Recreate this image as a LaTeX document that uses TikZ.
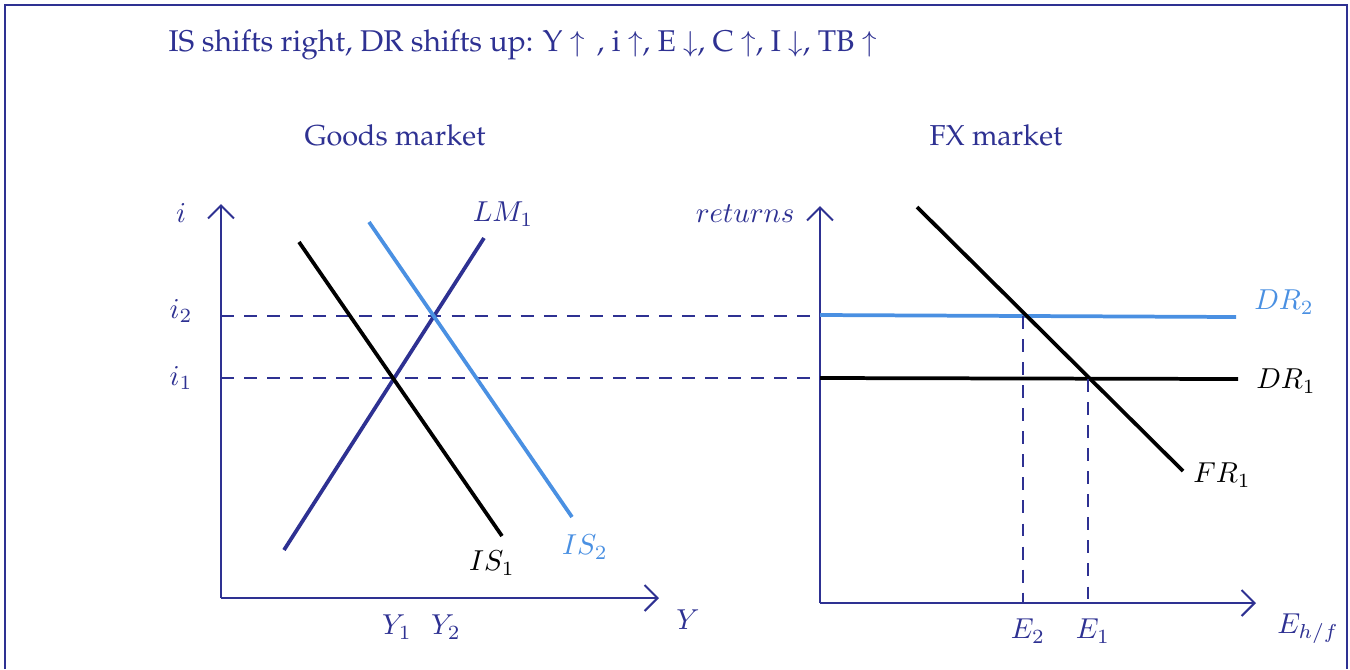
\documentclass[tikz,border=0pt]{standalone}
\usepackage[T1,TU]{fontenc}
\usetikzlibrary{positioning,arrows.meta}
\definecolor{navy}{HTML}{2E3192}
\definecolor{skyblue}{HTML}{4A90E2}
\tikzset{
  axis/.style={-{Straight Barb[length=4.5pt,width=9pt]}, navy, line width=0.7pt},
  curve/.style={line width=1.3pt},
  guide/.style={navy, line width=0.6pt, dash pattern=on 4.5pt off 3.5pt},
  lbl/.style={navy, inner sep=1pt},
  pal/.style={navy, inner sep=0pt, font=\fontencoding{T1}\fontfamily{ppl}\selectfont}
}
\begin{document}
\begin{tikzpicture}[x=0.347pt, y=-0.347pt]
    \useasboundingbox (0,0) rectangle (1350,669);
    % frame
    \draw[navy, line width=0.7pt] (5,669) -- (5,5) -- (1347,5) -- (1347,669);

    % headings
    \node[pal, anchor=west, font=\fontencoding{T1}\fontfamily{ppl}\fontsize{10.4}{12}\selectfont] (title) at (168,45) {IS shifts right, DR shifts up: Y $\uparrow$\, , i $\uparrow$, E $\downarrow$, C $\uparrow$, I $\downarrow$, TB $\uparrow$};
    \node[pal] (goods) at (395,135) {Goods market};
    \node[pal] (fx) at (996,135) {FX market};

    % goods market axes
    \coordinate (O1) at (221,598);
    \draw[axis] (O1) -- (221,204);
    \draw[axis] (O1) -- (659,598);
    \node[lbl] at (181,213) {$i$};
    \node[lbl] at (688,620) {$Y$};

    % interest levels
    \coordinate (A1) at (393.5,378);
    \coordinate (A2) at (433.5,316);
    \draw[guide] (221,316) -- (820,316);
    \draw[guide] (221,378) -- (820,378);
    \node[lbl] at (181,311) {$i_2$};
    \node[lbl] at (181,378) {$i_1$};
    \node[lbl] at (397,627) {$Y_1$};
    \node[lbl] at (446,627) {$Y_2$};

    % IS and LM curves
    \draw[curve, navy] (284,550) -- (484,238);
    \draw[curve, black] (299,242) -- (502,536);
    \draw[curve, skyblue] (369,222) -- (572,517);
    \node[lbl] at (503,214) {$LM_1$};
    \node[inner sep=1pt] at (492,563) {$IS_1$};
    \node[inner sep=1pt, skyblue] at (585,547) {$IS_2$};

    % FX market axes
    \coordinate (O2) at (820,603);
    \draw[axis] (O2) -- (820,206);
    \draw[axis] (O2) -- (1256,603);
    \node[lbl, anchor=east] at (798,214) {$returns$};
    \node[lbl] at (1308,629) {$E_{h/f}$};

    % DR and FR curves
    \draw[curve, skyblue] (820,315) -- (1236,317);
    \draw[curve, black] (820,378) -- (1238,379);
    \draw[curve, black] (917,207) -- (1183,471);
    \node[inner sep=1pt, skyblue] at (1284,302) {$DR_2$};
    \node[inner sep=1pt] at (1286,381) {$DR_1$};
    \node[inner sep=1pt] at (1222,475) {$FR_1$};

    % exchange rates
    \draw[guide] (1023,316) -- (1023,603);
    \draw[guide] (1088,379) -- (1088,603);
    \node[lbl] at (1028,631) {$E_2$};
    \node[lbl] at (1093,631) {$E_1$};
\end{tikzpicture}
\end{document}
